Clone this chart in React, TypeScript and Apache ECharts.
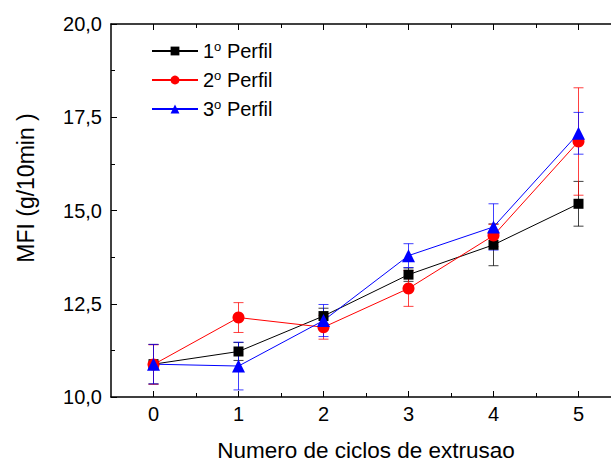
import React, { useEffect, useRef } from "react";
import * as echarts from "echarts";

const cycles = [0, 1, 2, 3, 4, 5];
const seriesNames = ["1° Perfil", "2° Perfil", "3° Perfil"];
const perfil1 = [10.88, 11.22, 12.17, 13.28, 14.08, 15.18];
const perfil1Err = [0.53, 0.24, 0.21, 0.18, 0.56, 0.6];
const perfil2 = [10.87, 12.13, 11.87, 12.91, 14.33, 16.85];
const perfil2Err = [0.53, 0.4, 0.32, 0.48, 0.3, 1.44];
const perfil3 = [10.88, 10.83, 12.05, 13.79, 14.56, 17.07];
const perfil3Err = [0.53, 0.64, 0.43, 0.32, 0.62, 0.56];
const majorX = [0, 1, 2, 3, 4, 5];
const minorX = [0.5, 1.5, 2.5, 3.5, 4.5, 5.5];
const xTitle = "Numero de ciclos de extrusao";
const yTitle = "MFI (g/10min )";

const colors = ["#000000", "#ff0000", "#0000ff"];
const symbols = ["rect", "circle", "triangle"];
const symbolSizes = [10, 12, 13];
const values = [perfil1, perfil2, perfil3];
const errors = [perfil1Err, perfil2Err, perfil3Err];

const FONT = "Liberation Sans";

export default function App() {
  const ref = useRef<HTMLDivElement>(null);
  useEffect(() => {
    if (!ref.current) return;
    const chart = echarts.init(ref.current, undefined, { renderer: "svg" });

    const lineSeries = values.map((vals, i) => ({
      name: seriesNames[i],
      type: "line",
      xAxisIndex: 0,
      yAxisIndex: 0,
      data: cycles.map((c, j) => [c, vals[j]]),
      symbol: symbols[i],
      symbolSize: symbolSizes[i],
      itemStyle: { color: colors[i] },
      lineStyle: { color: colors[i], width: 1 },
      z: 3,
    }));

    const errSeries = values.map((vals, i) => ({
      name: seriesNames[i] + " err",
      type: "custom",
      xAxisIndex: 0,
      yAxisIndex: 0,
      data: cycles.map((c, j) => [c, vals[j] - errors[i][j], vals[j] + errors[i][j]]),
      renderItem: (params: any, api: any) => {
        const x = api.value(0);
        const lo = api.coord([x, api.value(1)]);
        const hi = api.coord([x, api.value(2)]);
        const w = 5;
        const style = { stroke: colors[i], lineWidth: 1, opacity: 0.75 };
        return {
          type: "group",
          children: [
            { type: "line", shape: { x1: lo[0], y1: lo[1], x2: hi[0], y2: hi[1] }, style },
            { type: "line", shape: { x1: lo[0] - w, y1: lo[1], x2: lo[0] + w, y2: lo[1] }, style },
            { type: "line", shape: { x1: hi[0] - w, y1: hi[1], x2: hi[0] + w, y2: hi[1] }, style },
          ],
        };
      },
      z: 2,
      silent: true,
    }));

    const baseX = {
      type: "value",
      min: -0.5,
      max: 5.5,
      splitLine: { show: false },
    };

    chart.setOption({
      animation: false,
      backgroundColor: "#ffffff",
      grid: { left: 111, top: 24, right: 0, bottom: 67, outerBoundsMode: "none", containLabel: false },
      graphic: [
        {
          type: "text",
          x: 26,
          y: 188,
          rotation: Math.PI / 2,
          style: {
            text: yTitle,
            fontFamily: FONT,
            fontSize: 23,
            fill: "#000",
            align: "center",
            verticalAlign: "middle",
          },
        },
      ],
      legend: {
        orient: "vertical",
        left: 146,
        top: 35,
        itemWidth: 46,
        itemHeight: 11,
        itemGap: 8,
        data: seriesNames,
        formatter: (name: string) => `{n|${name.charAt(0)}}{s|o}{n| Perfil}`,
        textStyle: {
          fontFamily: FONT,
          fontSize: 20,
          color: "#000",
          rich: {
            n: { fontFamily: FONT, fontSize: 20, lineHeight: 22, color: "#000" },
            s: { fontFamily: FONT, fontSize: 13, lineHeight: 13, verticalAlign: "top", color: "#000" },
          },
        },
      },
      xAxis: [
        {
          ...baseX,
          position: "bottom",
          name: xTitle,
          nameLocation: "middle",
          nameGap: 42,
          nameTextStyle: { fontFamily: FONT, fontSize: 22.5, color: "#000" },
          axisLine: { show: true, onZero: false, lineStyle: { color: "#000", width: 1.5 } },
          axisTick: { show: true, inside: true, length: 6, customValues: majorX, lineStyle: { color: "#000", width: 1 } },
          axisLabel: { customValues: majorX, fontFamily: FONT, fontSize: 20, color: "#000", margin: 7 },
        },
        {
          ...baseX,
          position: "bottom",
          axisLine: { show: false, onZero: false },
          axisTick: { show: true, inside: true, length: 4, customValues: minorX, lineStyle: { color: "#000", width: 1 } },
          axisLabel: { show: false },
        },
        {
          ...baseX,
          position: "top",
          axisLine: { show: true, onZero: false, lineStyle: { color: "#000", width: 1.5 } },
          axisTick: { show: true, inside: true, length: 6, customValues: majorX, lineStyle: { color: "#000", width: 1 } },
          axisLabel: { show: false },
        },
        {
          ...baseX,
          position: "top",
          axisLine: { show: false, onZero: false },
          axisTick: { show: true, inside: true, length: 4, customValues: minorX, lineStyle: { color: "#000", width: 1 } },
          axisLabel: { show: false },
        },
      ],
      yAxis: [
        {
          type: "value",
          min: 10,
          max: 20,
          interval: 2.5,
          position: "left",
          splitLine: { show: false },
          axisLine: { show: true, onZero: false, lineStyle: { color: "#000", width: 1.5 } },
          axisTick: { show: true, inside: true, length: 6, lineStyle: { color: "#000", width: 1 } },
          minorTick: { show: true, splitNumber: 2, length: 4, lineStyle: { color: "#000", width: 1 } },
          axisLabel: {
            fontFamily: FONT,
            fontSize: 20,
            color: "#000",
            margin: 9,
            formatter: (v: number) => v.toFixed(1).replace(".", ","),
          },
        },
      ],
      series: [...errSeries, ...lineSeries],
    });
    return () => chart.dispose();
  }, []);
  return (
    <div style={{ position: "fixed", left: 0, top: 0, width: 611, height: 464, overflow: "hidden" }}>
      <div ref={ref} style={{ width: 621, height: 464 }} />
    </div>
  );
}
